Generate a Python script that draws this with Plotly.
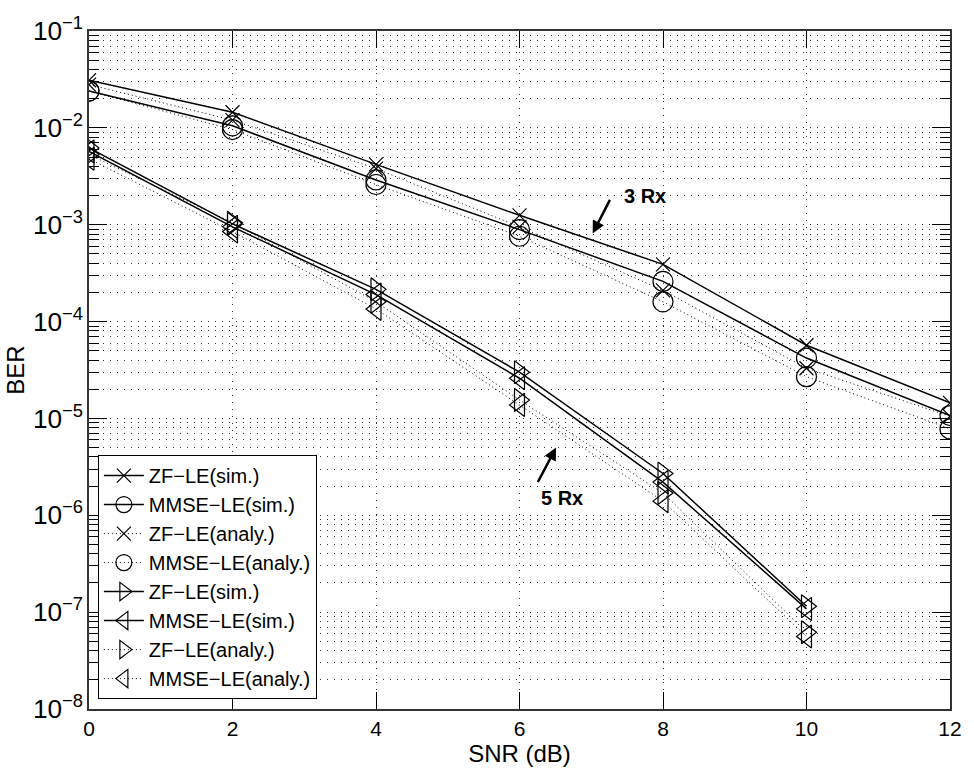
import plotly.graph_objects as go

# SNR grid (dB)
snr_3rx = [0, 2, 4, 6, 8, 10, 12]
snr_5rx = [0, 2, 4, 6, 8, 10]

# 3 receive antennas
zf_sim_3 = [3.1e-2, 1.45e-2, 4.2e-3, 1.25e-3, 3.9e-4, 5.7e-5, 1.45e-5]
mmse_sim_3 = [2.4e-2, 1.05e-2, 2.9e-3, 8.9e-4, 2.6e-4, 4.2e-5, 1.07e-5]
zf_ana_3 = [2.8e-2, 1.2e-2, 3.8e-3, 9.5e-4, 2.1e-4, 3.3e-5, 1.05e-5]
mmse_ana_3 = [2.4e-2, 9.6e-3, 2.6e-3, 7.6e-4, 1.6e-4, 2.7e-5, 7.8e-6]

# 5 receive antennas
zf_sim_5 = [6.2e-3, 1.02e-3, 2.15e-4, 3.0e-5, 2.7e-6, 1.15e-7]
mmse_sim_5 = [5.7e-3, 9.5e-4, 1.9e-4, 2.6e-5, 2.2e-6, 1.08e-7]
zf_ana_5 = [5.3e-3, 1.05e-3, 1.6e-4, 1.55e-5, 1.7e-6, 6.2e-8]
mmse_ana_5 = [4.8e-3, 8.5e-4, 1.35e-4, 1.38e-5, 1.4e-6, 5.6e-8]

FONT = "Liberation Sans, Arial, sans-serif"
SOLID = dict(color="black", width=1.5)
DOTTED = dict(color="black", width=1, dash="1px,3px")


def trace(x, y, name, symbol, size, line):
    return go.Scatter(
        x=x, y=y, name=name, mode="lines+markers", line=line,
        marker=dict(symbol=symbol, size=size, color="black",
                    line=dict(color="black", width=1.2)),
    )


fig = go.Figure()
fig.add_trace(trace(snr_3rx, zf_sim_3, "ZF\u2212LE(sim.)", "x-thin-open", 14, SOLID))
fig.add_trace(trace(snr_3rx, mmse_sim_3, "MMSE\u2212LE(sim.)", "circle-open", 20, SOLID))
fig.add_trace(trace(snr_3rx, zf_ana_3, "ZF\u2212LE(analy.)", "x-thin-open", 14, DOTTED))
fig.add_trace(trace(snr_3rx, mmse_ana_3, "MMSE\u2212LE(analy.)", "circle-open", 20, DOTTED))
fig.add_trace(trace(snr_5rx, zf_sim_5, "ZF\u2212LE(sim.)", "triangle-right-open", 20, SOLID))
fig.add_trace(trace(snr_5rx, mmse_sim_5, "MMSE\u2212LE(sim.)", "triangle-left-open", 20, SOLID))
fig.add_trace(trace(snr_5rx, zf_ana_5, "ZF\u2212LE(analy.)", "triangle-right-open", 20, DOTTED))
fig.add_trace(trace(snr_5rx, mmse_ana_5, "MMSE\u2212LE(analy.)", "triangle-left-open", 20, DOTTED))

# Arrow callouts for the two antenna groups
fig.add_annotation(x=7.02, y=-3.09, xref="x", yref="y", text="", showarrow=True,
                   ax=18, ay=-35, arrowhead=2, arrowsize=1, arrowwidth=2.5,
                   arrowcolor="black")
fig.add_annotation(x=7.75, y=-2.70, xref="x", yref="y", text="<b>3 Rx</b>",
                   showarrow=False, font=dict(family=FONT, size=20, color="black"))
fig.add_annotation(x=6.51, y=-5.30, xref="x", yref="y", text="", showarrow=True,
                   ax=-19, ay=36, arrowhead=2, arrowsize=1, arrowwidth=2.5,
                   arrowcolor="black")
fig.add_annotation(x=6.59, y=-5.82, xref="x", yref="y", text="<b>5 Rx</b>",
                   showarrow=False, font=dict(family=FONT, size=20, color="black"))

grid = dict(showgrid=True, gridcolor="#333", gridwidth=1, griddash="1px,6px")

fig.update_layout(
    width=974, height=775,
    margin=dict(l=89, r=13, t=24, b=65),
    paper_bgcolor="white", plot_bgcolor="white",
    font=dict(family=FONT, size=21, color="black"),
    showlegend=True,
    legend=dict(
        x=0.0103, y=0.0146, xanchor="left", yanchor="bottom",
        bgcolor="white", bordercolor="black", borderwidth=1,
        font=dict(family=FONT, size=20, color="black"),
        itemwidth=40, tracegroupgap=0,
    ),
    xaxis=dict(
        range=[0, 12], dtick=2, tick0=0,
        ticks="inside", ticklen=17, tickwidth=1, tickcolor="black",
        showline=True, linecolor="#333", linewidth=1.5, mirror="allticks",
        zeroline=False,
        title=dict(text="SNR (dB)", font=dict(size=24), standoff=6),
        **grid,
    ),
    yaxis=dict(
        type="log", range=[-8, -1], dtick=1,
        exponentformat="power", showexponent="all",
        ticks="inside", ticklen=18, tickwidth=1, tickcolor="black",
        showline=True, linecolor="#333", linewidth=1.5, mirror="allticks",
        zeroline=False,
        title=dict(text="BER", font=dict(size=24), standoff=2),
        minor=dict(dtick="D1", ticks="inside", ticklen=10, tickcolor="black",
                   showgrid=True, gridcolor="#333", griddash="1px,6px"),
        **grid,
    ),
)

fig.write_html("out.html")
